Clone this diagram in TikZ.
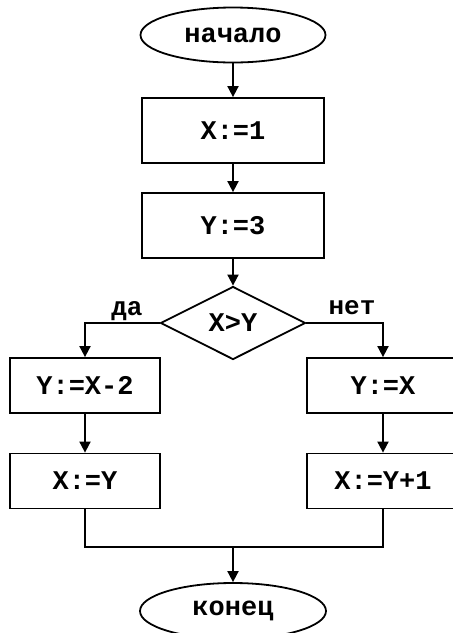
\documentclass[tikz,border=0pt]{standalone}
\usepackage{fontspec}
\newfontfamily\cour{Liberation Mono}
\usetikzlibrary{shapes.geometric,arrows.meta}
\begin{document}
\begin{tikzpicture}[x=1pt,y=-1pt,
  every node/.style={font=\cour\bfseries\fontsize{27}{27}\selectfont, line width=1.8pt, inner sep=0pt},
  term/.style={draw, ellipse, minimum width=185pt, minimum height=55pt},
  procbox/.style={draw, rectangle, minimum width=182pt, minimum height=65pt},
  sidebox/.style={draw, rectangle, minimum width=150pt, minimum height=55pt},
  decis/.style={draw, diamond, minimum width=145pt, minimum height=73pt},
  lbl/.style={draw=none, font=\cour\bfseries\fontsize{26}{26}\selectfont},
  arr/.style={line width=1.8pt, -{Triangle[length=11pt,width=11pt]}},
  ln/.style={line width=1.8pt}]
\clip (0,0) rectangle (453,633);
\useasboundingbox (0,0) rectangle (453,633);
\node[term] (start) at (233,35) {начало};
\node[procbox] (b1) at (233,130.5) {X:=1};
\node[procbox] (b2) at (233,225.5) {Y:=3};
\node[decis] (dia) at (233,323) {X>Y};
\node[sidebox] (l1) at (85,385.5) {Y:=X-2};
\node[sidebox, minimum width=152pt] (r1) at (383,385.5) {Y:=X};
\node[sidebox] (l2) at (85,481) {X:=Y};
\node[sidebox, minimum width=152pt] (r2) at (383,481) {X:=Y+1};
\node[term, minimum width=186pt, minimum height=56pt] (stop) at (233,611) {конец};
\node[lbl] (yes) at (127,311) {да};
\node[lbl] (no) at (352,308) {нет};
\coordinate (m) at (233,547);
\draw[arr] (start) -- (b1);
\draw[arr] (b1) -- (b2);
\draw[arr] (b2) -- (dia);
\draw[arr] (dia.west) -| (l1.north);
\draw[arr] (dia.east) -| (r1.north);
\draw[arr] (l1) -- (l2);
\draw[arr] (r1) -- (r2);
\draw[ln] (l2.south) |- (m) -| (r2.south);
\draw[arr] (m) -- (stop);
\end{tikzpicture}
\end{document}
